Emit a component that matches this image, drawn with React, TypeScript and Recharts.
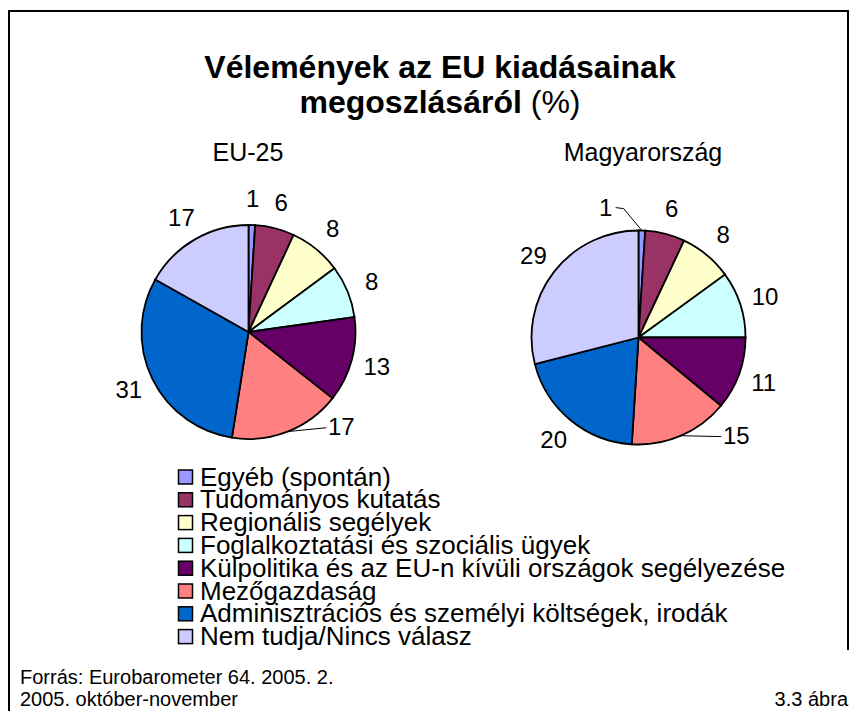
import { Cell, Pie, PieChart } from "recharts";

const categories = [
  "Egyéb (spontán)",
  "Tudományos kutatás",
  "Regionális segélyek",
  "Foglalkoztatási és szociális ügyek",
  "Külpolitika és az EU-n kívüli országok segélyezése",
  "Mezőgazdaság",
  "Adminisztrációs és személyi költségek, irodák",
  "Nem tudja/Nincs válasz",
];
const euValues = [1, 6, 8, 8, 13, 17, 31, 17];
const huValues = [1, 6, 8, 10, 11, 15, 20, 29];

const palette = ["#9999FF", "#993366", "#FFFFCC", "#CCFFFF", "#660066", "#FF8080", "#0066CC", "#CCCCFF"];
const FONT = "'Liberation Sans', Arial, Helvetica, sans-serif";

type Nudge = { angle: number; radius: number; leader: "left" | "right" };

// Excel pushed a few labels off their slice; angles are clockwise from 12 o'clock.
const euNudges: Record<number, Nudge> = { 5: { angle: 135.6, radius: 132.6, leader: "left" } };
const huNudges: Record<number, Nudge> = {
  0: { angle: 345.8, radius: 134, leader: "right" },
  5: { angle: 135.1, radius: 138.5, leader: "left" },
};

function polar(cx: number, cy: number, r: number, cw: number) {
  const a = (cw * Math.PI) / 180;
  return { x: cx + r * Math.sin(a), y: cy - r * Math.cos(a) };
}

function makeLabel(nudges: Record<number, Nudge>) {
  return (props: any) => {
    const { cx, cy, midAngle, outerRadius, index, value } = props;
    const cw = 90 - midAngle;
    const n = nudges[index];
    const pos = n ? polar(cx, cy, n.radius, n.angle) : polar(cx, cy, outerRadius + 26, cw);
    let leader = null;
    if (n) {
      const edge = polar(cx, cy, outerRadius, cw);
      const pts =
        n.leader === "left"
          ? [edge, { x: pos.x - 15, y: pos.y + 1 }]
          : [edge, { x: pos.x + 18, y: pos.y + 1 }, { x: pos.x + 10, y: pos.y }];
      leader = (
        <polyline
          points={pts.map((p) => `${p.x},${p.y}`).join(" ")}
          fill="none"
          stroke="#000"
          strokeWidth={1}
        />
      );
    }
    return (
      <g key={`lbl-${index}`}>
        {leader}
        <text x={pos.x} y={pos.y} dy="0.35em" textAnchor="middle" fontSize={24} fontFamily={FONT} fill="#000">
          {value}
        </text>
      </g>
    );
  };
}

const euData = categories.map((name, i) => ({ name, value: euValues[i] }));
const huData = categories.map((name, i) => ({ name, value: huValues[i] }));

export default function App() {
  return (
    <div style={{ position: "absolute", left: 0, top: 0, width: 859, height: 711, background: "#fff" }}>
      <div style={{ position: "absolute", left: 0, top: 0 }}>
        <PieChart width={859} height={711} margin={{ top: 0, right: 0, bottom: 0, left: 0 }}>
          <Pie
            data={euData}
            dataKey="value"
            cx={248.5}
            cy={332}
            outerRadius={107}
            startAngle={90}
            endAngle={-270}
            stroke="#000"
            strokeWidth={1.8}
            labelLine={false}
            label={makeLabel(euNudges)}
            isAnimationActive={false}
          >
            {euData.map((d, i) => (
              <Cell key={d.name} fill={palette[i]} />
            ))}
          </Pie>
          <Pie
            data={huData}
            dataKey="value"
            cx={638.5}
            cy={337.5}
            outerRadius={107}
            startAngle={90}
            endAngle={-270}
            stroke="#000"
            strokeWidth={1.8}
            labelLine={false}
            label={makeLabel(huNudges)}
            isAnimationActive={false}
          >
            {huData.map((d, i) => (
              <Cell key={d.name} fill={palette[i]} />
            ))}
          </Pie>
        </PieChart>
      </div>

      {/* frame, titles, legend and source line */}
      <svg
        width={859}
        height={711}
        style={{ position: "absolute", left: 0, top: 0, pointerEvents: "none" }}
        fontFamily={FONT}
      >
        <polyline points="9,711 9,11 848,11 848,650" fill="none" stroke="#000" strokeWidth={2} />
        <text x={440} y={78} textAnchor="middle" fontSize={32} fontWeight="bold">
          Vélemények az EU kiadásainak
        </text>
        <text x={440} y={113} textAnchor="middle" fontSize={32} style={{ whiteSpace: "pre" }}>
          <tspan fontWeight="bold">megoszlásáról</tspan>
          <tspan> (%)</tspan>
        </text>
        <text x={248} y={161} textAnchor="middle" fontSize={25}>
          EU-25
        </text>
        <text x={643} y={161} textAnchor="middle" fontSize={25}>
          Magyarország
        </text>

        {categories.map((c, i) => {
          const yc = 477 + i * 22.8;
          return (
            <g key={c}>
              <rect x={178.5} y={yc - 7} width={14} height={14} fill={palette[i]} stroke="#000" strokeWidth={1.5} />
              <text x={200} y={yc + 8.5} fontSize={26}>
                {c}
              </text>
            </g>
          );
        })}

        <text x={20} y={684} fontSize={20}>
          Forrás: Eurobarometer 64. 2005. 2.
        </text>
        <text x={20} y={706} fontSize={20}>
          2005. október-november
        </text>
        <text x={848} y={706} textAnchor="end" fontSize={20}>
          3.3 ábra
        </text>
      </svg>
    </div>
  );
}
